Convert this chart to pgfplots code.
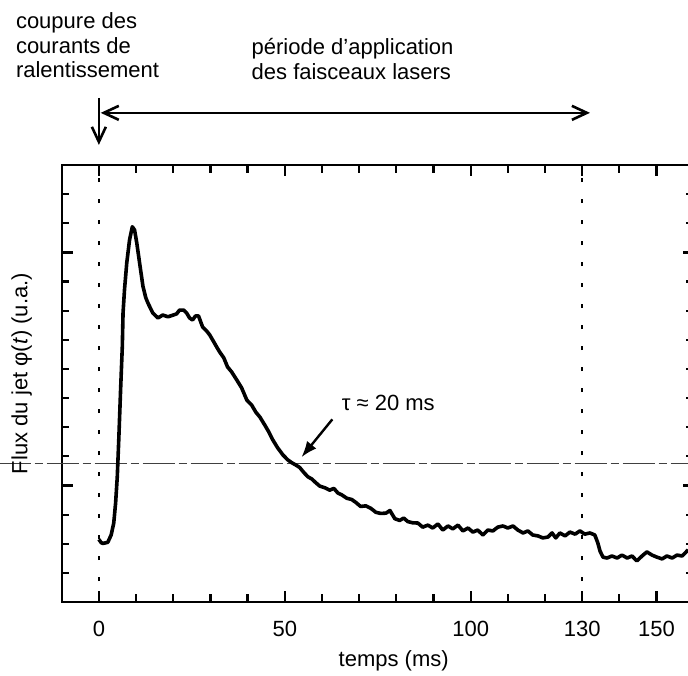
\documentclass[border=0pt]{standalone}
\usepackage{pgfplots}
\pgfplotsset{compat=1.18}
\usepackage{fontspec}
\setmainfont{Liberation Sans}
\usetikzlibrary{arrows.meta}
\begin{document}
\fontsize{11}{12.5}\selectfont
\begin{tikzpicture}
\begin{axis}[
  scale only axis, width=316pt, height=218.5pt,
  xmin=-10, xmax=160, ymin=0, ymax=15,
  axis line style={line width=1.2pt},
  tick align=inside,
  xtick={0,50,100,130,150},
  minor xtick={10,20,30,40,60,70,80,90,110,120,140},
  ytick={4,12}, yticklabels={},
  minor ytick={1,2,3,5,6,7,8,9,10,11,13,14},
  major tick length=5.5pt, minor tick length=3.8pt,
  tick style={black, line width=1.1pt},
  xticklabel pos=lower,
  xticklabel style={anchor=base, yshift=-17pt, inner sep=0pt},
  /pgf/number format/assume math mode=true,
  clip=false,
]
\coordinate (SW) at (rel axis cs:0,0);
% reference lines
\addplot[black!75, line width=0.5pt, dash pattern=on 16pt off 2pt on 4pt off 2pt] coordinates {(-27,4.74) (161,4.74)};
\addplot[black, line width=1.1pt, dash pattern=on 2pt off 8.5pt] coordinates {(0,0) (0,15)};
\addplot[black, line width=1.1pt, dash pattern=on 2pt off 8.5pt] coordinates {(130,0) (130,15)};
% signal
\addplot[black, line width=1.8pt, line join=round] coordinates {
(0,2.15) (0.6,2.04) (1.1,2.01) (2.4,2.05) (3.3,2.30) (4.0,2.71) (4.5,3.40) (4.95,4.30) (5.38,5.67) (5.84,7.28) (6.3,8.76) (6.5,9.92) (6.9,10.73) (7.5,11.64) (8.25,12.43) (9.0,12.88) (9.6,12.77) (10.2,12.32) (10.95,11.64) (11.85,10.84) (12.6,10.45) (13.2,10.26) (14.5,9.92) (15.9,9.75) (17.2,9.85) (18.6,9.79) (20.0,9.85) (20.9,9.89) (21.7,10.02) (22.8,10.02) (23.6,9.92) (24.4,9.75) (25.2,9.68) (26.0,9.82) (26.8,9.82) (27.9,9.44) (29.0,9.30) (29.8,9.17) (30.9,8.93) (31.7,8.75) (32.5,8.58) (33.6,8.38) (34.6,8.07) (35.7,7.90) (37.1,7.62) (38.4,7.35) (39.8,6.93) (41.1,6.76) (42.2,6.52) (43.3,6.35) (44.6,6.08) (45.7,5.84) (46.8,5.56) (48.1,5.29) (49.5,5.05) (50.8,4.88) (51.9,4.78) (53.0,4.70) (54.0,4.62) (55.1,4.45) (56.2,4.30) (57.3,4.22) (58.3,4.10) (59.4,3.98) (60.8,3.92) (62.1,3.84) (63.2,3.90) (64.3,3.74) (65.3,3.68) (66.7,3.56) (68.0,3.52) (69.1,3.42) (70.4,3.28) (71.8,3.30) (73.1,3.22) (74.5,3.08) (75.8,3.04) (77.2,3.05) (78.3,3.14) (79.6,2.86) (80.9,2.80) (82.0,2.88) (83.1,2.76) (84.4,2.72) (85.8,2.71) (87.1,2.57) (88.5,2.64) (89.8,2.54) (91.2,2.68) (92.5,2.47) (93.9,2.61) (95.2,2.51) (96.6,2.64) (97.9,2.44) (99.3,2.54) (100.6,2.40) (101.9,2.47) (103.3,2.30) (104.6,2.47) (106.0,2.44) (107.3,2.57) (108.7,2.61) (110.0,2.54) (111.4,2.61) (112.7,2.47) (114.1,2.37) (115.4,2.44) (116.7,2.30) (118.1,2.27) (119.4,2.20) (120.8,2.23) (121.9,2.37) (122.9,2.20) (124.0,2.37) (125.4,2.27) (126.7,2.40) (128.1,2.33) (129.4,2.44) (130.7,2.33) (132.1,2.37) (133.4,2.30) (134.2,2.03) (134.8,1.75) (135.6,1.54) (136.7,1.51) (138.0,1.58) (139.4,1.51) (140.7,1.61) (142.1,1.51) (143.4,1.58) (144.7,1.41) (146.1,1.58) (147.4,1.72) (148.8,1.61) (150.1,1.54) (151.5,1.48) (152.8,1.58) (154.2,1.51) (155.5,1.61) (156.9,1.58) (158.5,1.79)
};
% annotations
\draw[line width=1.3pt, -{Straight Barb[length=7.5pt,width=7pt]}] (axis cs:0,17.3) -- (axis cs:0,15.69);
\draw[line width=1.3pt, {Straight Barb[length=7.5pt,width=7pt]}-{Straight Barb[length=7.5pt,width=7pt]}] (axis cs:0.5,16.79) -- (axis cs:132.1,16.79);
\draw[line width=1.2pt, -{Latex[length=8pt,width=6pt]}] (axis cs:62.8,6.27) -- (axis cs:54.5,4.97);
\node[anchor=base west, inner sep=0pt] at (axis cs:-22.4,19.69) {coupure des};
\node[anchor=base west, inner sep=0pt] at (axis cs:-22.4,18.84) {courants de};
\node[anchor=base west, inner sep=0pt] at (axis cs:-22.4,18.01) {ralentissement};
\node[anchor=base west, inner sep=0pt] at (axis cs:41.0,18.78) {période d’application};
\node[anchor=base west, inner sep=0pt] at (axis cs:41.0,17.92) {des faisceaux lasers};
\node[anchor=base west, inner sep=0pt] at (axis cs:65.25,6.57) {τ ≈ 20 ms};
\node[anchor=base, inner sep=0pt, rotate=90] at (axis cs:-19.2,7.84) {Flux du jet φ(\textit{t}) (u.a.)};
\node[anchor=base, inner sep=0pt] at (axis cs:79.3,0) [yshift=-32pt] {temps (ms)};
\end{axis}
\pgfresetboundingbox
\path[use as bounding box] ([shift={(-30.85pt,-36.5pt)}]SW) rectangle ++(344pt,337.5pt);
\end{tikzpicture}
\end{document}
